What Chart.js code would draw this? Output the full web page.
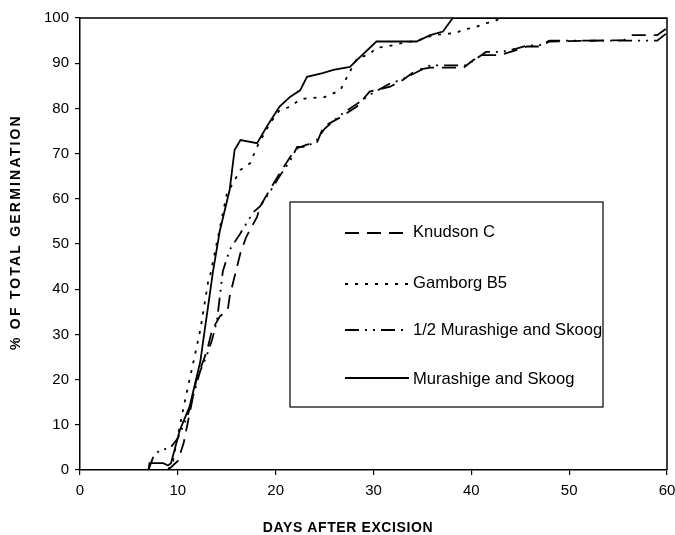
<!DOCTYPE html>
<html>
<head>
<meta charset="utf-8">
<script src="https://cdn.jsdelivr.net/npm/chart.js@4.4.1/dist/chart.umd.min.js"></script>
<style>
  html, body { margin: 0; padding: 0; background: #fff; }
  .chart-wrapper { position: relative; width: 675px; height: 535px; }
</style>
</head>
<body>
<div class="chart-wrapper"><canvas id="germChart" width="675" height="535"></canvas></div>
<script>
// days after excision / % of total germination
const knudsonDays = [9, 10, 10.6, 11.9, 13, 13.5, 14.3, 15.1, 15.3, 15.8, 16.4, 17, 18.1, 18.4, 19.4, 20.4, 21.5, 22.2, 23.2, 24.2, 24.9, 26.6, 28.3, 29.6, 31.7, 33, 34.4, 35.8, 39.2, 40.2, 41.2, 42.9, 44.6, 45.7, 47, 48, 55.6, 56.2, 59, 60];
const knudsonPct = [0, 2, 6, 20, 26.5, 31, 34, 35.4, 38.4, 42.8, 48, 51.6, 56, 58.3, 62, 65.6, 69.3, 71.2, 72, 72.3, 76, 78, 80.4, 83.7, 84.8, 86.3, 88.5, 89, 89, 90.7, 91.8, 91.8, 92.9, 93.7, 93.7, 94.8, 95.1, 96.2, 96.2, 97.8];

const gamborgDays = [9, 9.5, 10.6, 11.6, 12.3, 13.1, 13.3, 15, 16.4, 17.4, 18.1, 19.4, 20.4, 21.5, 22.5, 23.5, 25, 26.6, 27.3, 28.3, 29.6, 30.3, 31.4, 33, 34.5, 36.1, 38.5, 39.2, 40.2, 41.4, 42.3, 43, 60];
const gamborgPct = [0, 2, 14, 24, 31, 41.7, 43, 61, 66.4, 67.9, 71.5, 76.7, 79.6, 80.4, 82, 82.3, 82.5, 84, 87, 91, 92, 93.4, 93.7, 94.5, 95, 96.2, 96.7, 97.5, 97.8, 98.8, 99.2, 100, 100];

const halfMsDays = [7, 7.5, 8.2, 9.2, 10, 11, 12.3, 12.9, 13.5, 14, 14.6, 15.3, 16.4, 17.7, 18.4, 19.4, 20.4, 21.5, 22.2, 23.2, 24.2, 25, 26.6, 28.3, 29.6, 31.7, 33, 34.4, 35.8, 39.5, 40.5, 41.5, 43, 44.6, 45.7, 47, 48, 59, 60];
const halfMsPct = [0, 3, 4.5, 4.8, 7, 12, 22, 25, 28.8, 33, 44, 48.7, 52.4, 57, 58.3, 61.5, 65, 68.5, 71.5, 71.5, 73, 75.5, 78.5, 81, 83, 85.5, 86.5, 88, 89.5, 89.5, 91, 92.5, 92.5, 93.2, 93.9, 94, 95, 95, 96.7];

const msDays = [7, 7.1, 8.5, 9, 9.3, 10.2, 11.2, 12.3, 12.6, 13.6, 14.3, 15.3, 15.8, 16.4, 18.1, 19.1, 20.4, 21.5, 22.5, 23.2, 24.8, 25.9, 27.6, 28.3, 30.3, 34.4, 35.8, 37.1, 38.1, 60];
const msPct = [0, 1.5, 1.5, 1, 1.5, 8.8, 14, 24, 28.7, 44, 53, 62, 70.8, 73, 72.3, 76, 80.4, 82.6, 84, 87, 87.8, 88.5, 89.2, 90.7, 94.8, 94.8, 96.2, 97, 100, 100];

const xTicks = [0, 10, 20, 30, 40, 50, 60];
const yTicks = [0, 10, 20, 30, 40, 50, 60, 70, 80, 90, 100];

const FONT = "'Liberation Sans', Arial, sans-serif";

function toPoints(days, pct) {
  return days.map((d, i) => ({ x: d, y: pct[i] }));
}

function series(label, days, pct, dash) {
  return {
    label,
    data: toPoints(days, pct),
    borderColor: '#000',
    borderWidth: 1.8,
    borderDash: dash,
    pointRadius: 0,
    tension: 0,
    fill: false,
  };
}

// plot frame on top / right, legend box, axis titles
const extras = {
  id: 'extras',
  afterDraw(chart) {
    const { ctx, chartArea: a } = chart;
    ctx.save();
    ctx.strokeStyle = '#000';
    ctx.lineWidth = 1.5;
    ctx.beginPath();
    ctx.moveTo(a.left, a.top);
    ctx.lineTo(a.right, a.top);
    ctx.lineTo(a.right, a.bottom);
    ctx.stroke();

    // legend
    const box = { x: 290, y: 202, w: 313, h: 205 };
    ctx.lineWidth = 1.2;
    ctx.strokeRect(box.x, box.y, box.w, box.h);
    ctx.font = '16.6px ' + FONT;
    ctx.fillStyle = '#000';
    ctx.textBaseline = 'alphabetic';
    const lineY = [233, 284, 330, 378];
    const textY = [237, 288, 335, 384];
    chart.data.datasets.forEach((ds, i) => {
      ctx.setLineDash(ds.borderDash || []);
      ctx.lineWidth = 1.8;
      ctx.beginPath();
      ctx.moveTo(345, lineY[i]);
      ctx.lineTo(409, lineY[i]);
      ctx.stroke();
      ctx.setLineDash([]);
      ctx.fillText(ds.label, 413, textY[i]);
    });

    // axis titles
    ctx.font = 'bold 14px ' + FONT;
    ctx.textAlign = 'center';
    ctx.textBaseline = 'middle';
    ctx.letterSpacing = '0.6px';
    ctx.fillText('DAYS AFTER EXCISION', 348, 528);
    ctx.letterSpacing = '2.2px';
    ctx.translate(16, 232);
    ctx.rotate(-Math.PI / 2);
    ctx.fillText('% OF TOTAL GERMINATION', 0, 0);
    ctx.restore();
  },
};

new Chart(document.getElementById('germChart').getContext('2d'), {
  type: 'line',
  data: {
    datasets: [
      series('Knudson C', knudsonDays, knudsonPct, [14, 8]),
      series('Gamborg B5', gamborgDays, gamborgPct, [3, 7]),
      series('1/2 Murashige and Skoog', halfMsDays, halfMsPct, [14, 6, 2, 6, 2, 6]),
      series('Murashige and Skoog', msDays, msPct, []),
    ],
  },
  options: {
    responsive: false,
    animation: false,
    devicePixelRatio: 1,
    layout: { padding: { top: 18, right: 8, left: 0, bottom: 0 } },
    plugins: { legend: { display: false }, tooltip: { enabled: false } },
    scales: {
      x: {
        type: 'linear',
        min: 0,
        max: 60,
        afterBuildTicks: s => { s.ticks = xTicks.map(v => ({ value: v })); },
        afterFit: s => { s.height = 65; s.paddingLeft = 0; s.paddingRight = 0; },
        grid: { display: true, drawOnChartArea: false, drawTicks: true, tickLength: 5, color: '#000', lineWidth: 1.2 },
        border: { display: true, color: '#000', width: 1.5 },
        ticks: { color: '#000', font: { size: 15, family: FONT }, padding: 7, maxRotation: 0, autoSkip: false },
      },
      y: {
        type: 'linear',
        min: 0,
        max: 100,
        afterBuildTicks: s => { s.ticks = yTicks.map(v => ({ value: v })); },
        afterFit: s => { s.width = 80; s.paddingTop = 0; s.paddingBottom = 0; },
        grid: { display: true, drawOnChartArea: false, drawTicks: true, tickLength: 5, color: '#000', lineWidth: 1.2 },
        border: { display: true, color: '#000', width: 1.5 },
        ticks: { color: '#000', font: { size: 15, family: FONT }, padding: 6, autoSkip: false },
      },
    },
  },
  plugins: [extras],
});
</script>
</body>
</html>
